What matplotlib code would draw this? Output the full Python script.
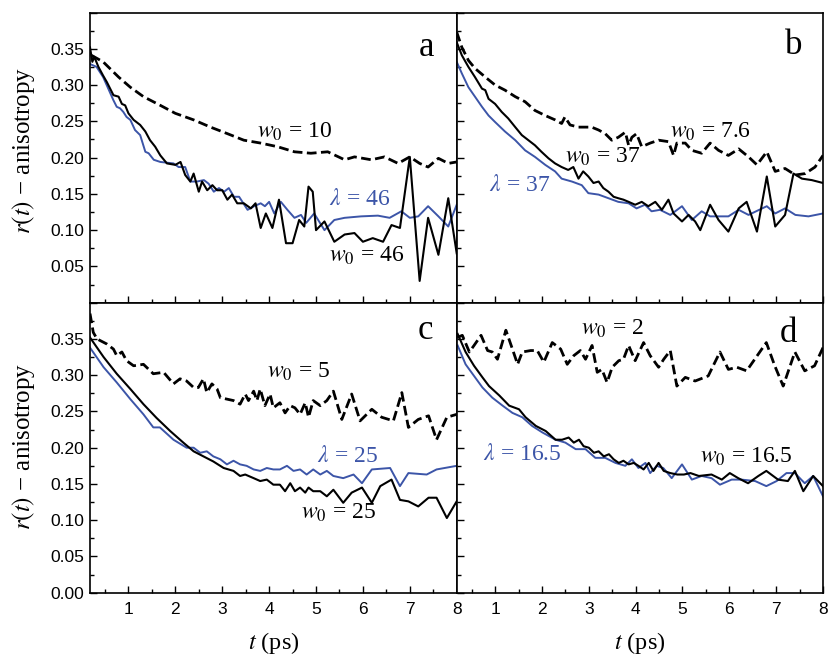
import matplotlib
matplotlib.use("Agg")
import matplotlib.pyplot as plt
from matplotlib.ticker import MultipleLocator, FixedLocator, FixedFormatter

plt.rcParams['mathtext.fontset'] = 'stix'
plt.rcParams['font.family'] = ['Liberation Serif', 'DejaVu Serif']

# ---------------- data ----------------
# Panel a
a_dash_t = [0.21, 0.46, 0.79, 1.04, 1.32, 1.68, 2.0, 2.39, 2.75, 3.11, 3.46, 3.82, 4.18, 4.54, 4.89, 5.25,
            5.61, 5.82, 6.18, 6.46, 6.75, 7.0, 7.21, 7.39, 7.61, 7.82, 8.0]
a_dash_r = [0.341, 0.332, 0.311, 0.297, 0.284, 0.272, 0.261, 0.252, 0.242, 0.233, 0.224, 0.220, 0.215, 0.208,
            0.206, 0.208, 0.197, 0.201, 0.197, 0.201, 0.192, 0.201, 0.192, 0.187, 0.199, 0.192, 0.194]
a_blk_t = [0.18, 0.23, 0.27, 0.36, 0.46, 0.54, 0.61, 0.68, 0.79, 0.86, 0.93, 1.0, 1.11, 1.25, 1.36, 1.46, 1.57,
           1.68, 1.82, 2.0, 2.11, 2.21, 2.32, 2.39, 2.5, 2.57, 2.68, 2.79, 2.89, 3.0, 3.11, 3.21, 3.32, 3.46,
           3.61, 3.71, 3.82, 3.93, 4.07, 4.21, 4.36, 4.5, 4.64, 4.75, 4.84, 4.93, 5.0, 5.18, 5.39, 5.61, 5.82,
           6.0, 6.21, 6.43, 6.61, 6.79, 7.0, 7.21, 7.39, 7.61, 7.82, 8.0]
a_blk_r = [0.352, 0.332, 0.339, 0.325, 0.313, 0.304, 0.295, 0.286, 0.284, 0.274, 0.272, 0.261, 0.252, 0.245,
           0.236, 0.224, 0.215, 0.203, 0.192, 0.190, 0.194, 0.176, 0.167, 0.178, 0.153, 0.167, 0.155, 0.162,
           0.155, 0.155, 0.142, 0.149, 0.137, 0.137, 0.130, 0.137, 0.103, 0.123, 0.103, 0.142, 0.082, 0.082,
           0.114, 0.105, 0.160, 0.153, 0.100, 0.112, 0.084, 0.094, 0.096, 0.084, 0.089, 0.084, 0.107, 0.103,
           0.201, 0.030, 0.117, 0.066, 0.144, 0.068]
a_blu_t = [0.18, 0.32, 0.46, 0.57, 0.68, 0.75, 0.82, 0.89, 0.96, 1.04, 1.14, 1.25, 1.36, 1.43, 1.54, 1.68, 1.96,
           2.07, 2.21, 2.32, 2.46, 2.61, 2.71, 2.82, 2.93, 3.04, 3.14, 3.25, 3.36, 3.54, 3.68, 3.82, 3.91, 4.0,
           4.11, 4.25, 4.39, 4.54, 4.68, 4.79, 4.96, 5.18, 5.39, 5.61, 5.96, 6.32, 6.57, 6.82, 7.0, 7.18, 7.39,
           7.61, 7.82, 8.0]
a_blu_r = [0.329, 0.325, 0.311, 0.295, 0.279, 0.270, 0.268, 0.263, 0.256, 0.252, 0.238, 0.231, 0.208, 0.206,
           0.197, 0.194, 0.192, 0.187, 0.187, 0.167, 0.167, 0.169, 0.164, 0.153, 0.158, 0.153, 0.158, 0.146,
           0.146, 0.128, 0.133, 0.137, 0.133, 0.139, 0.123, 0.139, 0.128, 0.117, 0.121, 0.110, 0.123, 0.100,
           0.114, 0.117, 0.119, 0.120, 0.117, 0.126, 0.117, 0.119, 0.133, 0.119, 0.105, 0.135]

# Panel b
b_dash_t = [0.18, 0.29, 0.43, 0.57, 0.79, 1.0, 1.21, 1.43, 1.64, 1.85, 2.07, 2.28, 2.42, 2.49, 2.6, 2.78, 2.92,
            3.06, 3.21, 3.35, 3.49, 3.63, 3.78, 3.85, 3.92, 4.02, 4.13, 4.31, 4.49, 4.70, 4.81, 4.88, 5.06,
            5.20, 5.41, 5.59, 5.77, 5.98, 6.20, 6.41, 6.59, 6.80, 6.98, 7.19, 7.41, 7.62, 7.83, 8.0]
b_dash_r = [0.373, 0.352, 0.334, 0.323, 0.311, 0.300, 0.293, 0.284, 0.277, 0.265, 0.258, 0.252, 0.247, 0.256,
            0.245, 0.242, 0.242, 0.242, 0.238, 0.233, 0.224, 0.228, 0.235, 0.217, 0.228, 0.233, 0.215, 0.220,
            0.224, 0.222, 0.203, 0.220, 0.220, 0.210, 0.206, 0.220, 0.210, 0.203, 0.212, 0.201, 0.190, 0.208,
            0.181, 0.185, 0.176, 0.178, 0.187, 0.203]
b_blk_t = [0.18, 0.29, 0.43, 0.57, 0.72, 0.79, 0.86, 1.0, 1.14, 1.28, 1.43, 1.57, 1.71, 1.85, 1.99, 2.14, 2.28,
           2.42, 2.56, 2.67, 2.78, 2.88, 2.99, 3.10, 3.21, 3.31, 3.42, 3.53, 3.63, 3.74, 3.85, 3.99, 4.13, 4.27,
           4.42, 4.56, 4.70, 4.81, 4.99, 5.13, 5.27, 5.38, 5.59, 5.77, 5.98, 6.20, 6.37, 6.59, 6.80, 6.98, 7.19,
           7.37, 7.55, 7.76, 8.0]
b_blk_r = [0.359, 0.341, 0.325, 0.311, 0.295, 0.293, 0.281, 0.274, 0.263, 0.254, 0.242, 0.231, 0.224, 0.217,
           0.208, 0.199, 0.192, 0.187, 0.183, 0.187, 0.171, 0.181, 0.174, 0.165, 0.167, 0.158, 0.153, 0.146,
           0.144, 0.142, 0.139, 0.135, 0.139, 0.133, 0.139, 0.128, 0.142, 0.123, 0.112, 0.121, 0.112, 0.100,
           0.135, 0.114, 0.098, 0.130, 0.139, 0.098, 0.174, 0.105, 0.121, 0.178, 0.171, 0.169, 0.165]
b_blu_t = [0.18, 0.29, 0.43, 0.57, 0.72, 0.86, 1.0, 1.21, 1.43, 1.64, 1.85, 2.07, 2.28, 2.42, 2.64, 2.85, 2.99,
           3.21, 3.42, 3.63, 3.85, 4.02, 4.20, 4.34, 4.52, 4.74, 4.99, 5.20, 5.41, 5.59, 5.98, 6.20, 6.41, 6.80,
           6.98, 7.19, 7.41, 7.69, 8.0]
b_blu_r = [0.332, 0.316, 0.297, 0.284, 0.270, 0.258, 0.249, 0.236, 0.224, 0.210, 0.201, 0.190, 0.181, 0.171,
           0.167, 0.162, 0.151, 0.149, 0.144, 0.139, 0.137, 0.130, 0.135, 0.126, 0.128, 0.121, 0.133, 0.114,
           0.126, 0.119, 0.119, 0.128, 0.121, 0.133, 0.123, 0.130, 0.121, 0.119, 0.123]

# Panel c
c_dash_t = [0.18, 0.25, 0.33, 0.54, 0.68, 0.75, 0.86, 0.96, 1.11, 1.32, 1.53, 1.75, 1.96, 2.10, 2.24, 2.39, 2.49,
            2.60, 2.67, 2.78, 2.89, 2.96, 3.10, 3.24, 3.38, 3.49, 3.56, 3.67, 3.74, 3.81, 3.91, 4.02, 4.09, 4.23,
            4.34, 4.45, 4.55, 4.66, 4.77, 4.84, 4.94, 5.09, 5.23, 5.37, 5.55, 5.76, 5.94, 6.19, 6.40, 6.65, 6.83,
            6.97, 7.18, 7.40, 7.57, 7.79, 8.0]
c_dash_r = [0.385, 0.359, 0.350, 0.343, 0.336, 0.327, 0.332, 0.320, 0.313, 0.315, 0.302, 0.304, 0.288, 0.295,
            0.292, 0.283, 0.283, 0.295, 0.276, 0.288, 0.281, 0.269, 0.267, 0.265, 0.260, 0.274, 0.265, 0.278,
            0.265, 0.281, 0.258, 0.274, 0.255, 0.262, 0.248, 0.258, 0.255, 0.246, 0.262, 0.242, 0.265, 0.258,
            0.265, 0.278, 0.239, 0.274, 0.237, 0.253, 0.242, 0.237, 0.276, 0.228, 0.239, 0.244, 0.211, 0.242,
            0.246]
c_blk_t = [0.18, 0.47, 0.75, 1.04, 1.32, 1.60, 1.89, 2.17, 2.39, 2.60, 2.81, 3.03, 3.24, 3.38, 3.49, 3.67, 3.81,
           3.95, 4.09, 4.23, 4.34, 4.45, 4.55, 4.66, 4.77, 4.84, 4.94, 5.09, 5.23, 5.37, 5.58, 5.76, 5.98, 6.19,
           6.37, 6.61, 6.79, 6.97, 7.18, 7.40, 7.57, 7.79, 8.0]
c_blk_r = [0.352, 0.325, 0.302, 0.281, 0.260, 0.241, 0.223, 0.207, 0.195, 0.188, 0.181, 0.172, 0.168, 0.161,
           0.163, 0.158, 0.154, 0.156, 0.149, 0.149, 0.140, 0.151, 0.140, 0.145, 0.138, 0.145, 0.140, 0.140,
           0.133, 0.142, 0.124, 0.138, 0.145, 0.124, 0.147, 0.156, 0.128, 0.126, 0.119, 0.131, 0.131, 0.103,
           0.126]
c_blu_t = [0.18, 0.47, 0.75, 1.04, 1.32, 1.53, 1.67, 1.96, 2.24, 2.39, 2.53, 2.67, 2.81, 2.96, 3.10, 3.24, 3.38,
           3.52, 3.67, 3.81, 3.95, 4.09, 4.23, 4.38, 4.52, 4.66, 4.80, 4.94, 5.09, 5.23, 5.37, 5.58, 5.80, 5.98,
           6.19, 6.58, 6.79, 6.97, 7.36, 7.57, 8.0]
c_blu_r = [0.338, 0.311, 0.290, 0.267, 0.246, 0.228, 0.228, 0.211, 0.200, 0.200, 0.193, 0.195, 0.188, 0.184,
           0.177, 0.182, 0.177, 0.175, 0.170, 0.168, 0.172, 0.170, 0.170, 0.175, 0.168, 0.170, 0.163, 0.170,
           0.163, 0.168, 0.161, 0.158, 0.163, 0.151, 0.170, 0.172, 0.147, 0.165, 0.163, 0.170, 0.175]

# Panel d
d_dash_t = [0.19, 0.30, 0.45, 0.55, 0.70, 0.84, 0.94, 1.05, 1.23, 1.37, 1.48, 1.58, 1.76, 1.90, 2.04, 2.22, 2.40,
            2.54, 2.68, 2.82, 2.93, 3.07, 3.18, 3.28, 3.39, 3.50, 3.64, 3.74, 3.85, 3.99, 4.17, 4.31, 4.49, 4.60,
            4.74, 4.88, 5.06, 5.27, 5.55, 5.80, 5.98, 6.16, 6.37, 6.79, 6.97, 7.15, 7.40, 7.61, 7.82, 8.0]
d_dash_r = [0.352, 0.355, 0.332, 0.341, 0.355, 0.334, 0.332, 0.322, 0.362, 0.336, 0.315, 0.332, 0.334, 0.334,
            0.318, 0.345, 0.336, 0.315, 0.327, 0.334, 0.322, 0.341, 0.304, 0.308, 0.290, 0.311, 0.320, 0.322,
            0.341, 0.320, 0.345, 0.327, 0.311, 0.322, 0.334, 0.285, 0.297, 0.292, 0.299, 0.332, 0.308, 0.311,
            0.306, 0.345, 0.313, 0.285, 0.332, 0.306, 0.313, 0.338]
d_blk_t = [0.20, 0.37, 0.55, 0.73, 0.87, 1.09, 1.30, 1.51, 1.65, 1.87, 2.08, 2.29, 2.43, 2.57, 2.68, 2.79, 2.89,
           3.0, 3.11, 3.21, 3.32, 3.43, 3.53, 3.64, 3.74, 3.85, 3.96, 4.06, 4.17, 4.28, 4.38, 4.49, 4.60, 4.74,
           4.89, 5.03, 5.17, 5.35, 5.62, 5.84, 6.01, 6.19, 6.40, 6.62, 6.79, 7.04, 7.25, 7.40, 7.58, 7.79, 8.0]
d_blk_r = [0.357, 0.332, 0.313, 0.297, 0.285, 0.272, 0.258, 0.253, 0.242, 0.230, 0.223, 0.211, 0.211, 0.214,
           0.207, 0.211, 0.202, 0.200, 0.193, 0.195, 0.188, 0.191, 0.184, 0.179, 0.182, 0.177, 0.179, 0.175,
           0.170, 0.179, 0.168, 0.179, 0.168, 0.165, 0.163, 0.163, 0.165, 0.161, 0.163, 0.156, 0.165, 0.158,
           0.151, 0.161, 0.168, 0.156, 0.154, 0.168, 0.140, 0.161, 0.147]
d_blu_t = [0.20, 0.37, 0.55, 0.73, 0.94, 1.16, 1.37, 1.58, 1.79, 2.01, 2.29, 2.50, 2.72, 2.93, 3.14, 3.35, 3.57,
           3.78, 3.92, 4.06, 4.21, 4.31, 4.45, 4.59, 4.77, 4.99, 5.20, 5.41, 5.62, 5.80, 6.05, 6.26, 6.55, 6.79,
           7.01, 7.22, 7.40, 7.61, 7.79, 8.0]
d_blu_r = [0.341, 0.315, 0.299, 0.283, 0.269, 0.258, 0.248, 0.242, 0.230, 0.221, 0.211, 0.207, 0.198, 0.198,
           0.186, 0.186, 0.179, 0.175, 0.184, 0.172, 0.179, 0.165, 0.175, 0.172, 0.158, 0.177, 0.156, 0.161,
           0.158, 0.149, 0.156, 0.156, 0.154, 0.147, 0.154, 0.165, 0.165, 0.151, 0.161, 0.133]

panel_letters = ['a', 'b', 'c', 'd']
dash_labels = ['10', '7.6', '5', '2']
fit_labels = ['46', '37', '25', '16.5']
fit_labels_w = ['46', '37', '25', '16.5']
x_ticks = [1, 2, 3, 4, 5, 6, 7, 8]
y_ticks = [0.0, 0.05, 0.10, 0.15, 0.20, 0.25, 0.30, 0.35, 0.40]

BLUE = '#3c55a8'

fig = plt.figure(figsize=(8.31, 6.58), dpi=100)
W, H = 831, 658
L, M, R = 90, 456.7, 823
T, MID, B = 12.5, 302.7, 592.7
pos = {
    'a': [L / W, 1 - MID / H, (M - L) / W, (MID - T) / H],
    'b': [M / W, 1 - MID / H, (R - M) / W, (MID - T) / H],
    'c': [L / W, 1 - B / H, (M - L) / W, (B - MID) / H],
    'd': [M / W, 1 - B / H, (R - M) / W, (B - MID) / H],
}

data = {
    'a': (a_dash_t, a_dash_r, a_blk_t, a_blk_r, a_blu_t, a_blu_r),
    'b': (b_dash_t, b_dash_r, b_blk_t, b_blk_r, b_blu_t, b_blu_r),
    'c': (c_dash_t, c_dash_r, c_blk_t, c_blk_r, c_blu_t, c_blu_r),
    'd': (d_dash_t, d_dash_r, d_blk_t, d_blk_r, d_blu_t, d_blu_r),
}

ann_fs = 17

axes = {}
for key in panel_letters:
    ax = fig.add_axes(pos[key])
    axes[key] = ax
    dt, dr, kt, kr, bt, br = data[key]
    ax.plot(bt, br, color=BLUE, lw=1.4, zorder=2)
    ax.plot(kt, kr, color='black', lw=1.5, zorder=3)
    ax.plot(dt, dr, color='black', lw=2.0, ls=(0, (3.5, 1.6)), zorder=3)
    ax.set_xlim(0.18, 8.0)
    ax.set_ylim(0.0, 0.40)
    ax.xaxis.set_major_locator(FixedLocator(x_ticks))
    ax.xaxis.set_minor_locator(MultipleLocator(0.5))
    ax.yaxis.set_major_locator(FixedLocator(y_ticks))
    ax.yaxis.set_minor_locator(MultipleLocator(0.025))
    ax.tick_params(which='both', direction='in', top=False, right=False, width=1.0, colors='black',
                   labelsize=12.5, labelfontfamily='Liberation Sans')
    ax.tick_params(which='major', length=5)
    ax.tick_params(which='minor', length=3)
    ax.tick_params(axis='x', pad=7)
    ax.tick_params(axis='y', pad=4)
    for s in ax.spines.values():
        s.set_linewidth(1.2)
    if key in ('a', 'b'):
        ax.xaxis.set_major_formatter(FixedFormatter([''] * 8))
    else:
        ax.xaxis.set_major_formatter(FixedFormatter([str(i) for i in x_ticks]))
    if key in ('b', 'd'):
        ax.yaxis.set_major_formatter(FixedFormatter([''] * 9))
    elif key == 'a':
        ax.yaxis.set_major_formatter(FixedFormatter(
            ['', '0.05', '0.10', '0.15', '0.20', '0.25', '0.30', '0.35', '']))
    else:
        ax.yaxis.set_major_formatter(FixedFormatter(
            ['0.00', '0.05', '0.10', '0.15', '0.20', '0.25', '0.30', '0.35', '']))

# panel letters
letter_pos = {'a': (7.35, 0.352), 'b': (7.37, 0.355), 'c': (7.33, 0.362), 'd': (7.26, 0.357)}
for key in panel_letters:
    x, y = letter_pos[key]
    axes[key].text(x, y, key, fontsize=25, ha='center', va='center', family='Liberation Serif')

def wtxt(ax, x, y, val, color='black'):
    ax.text(x, y, r'$w_0$' + ' = ' + val, fontsize=ann_fs, ha='left', va='center', color=color,
            family='Liberation Serif')

def ltxt(ax, x, y, val):
    ax.text(x, y, r'$\lambda$' + ' = ' + val, fontsize=ann_fs, ha='left', va='center', color=BLUE,
            family='Liberation Serif')

wtxt(axes['a'], 3.75, 0.236, dash_labels[0])
ltxt(axes['a'], 5.27, 0.142, fit_labels[0])
wtxt(axes['a'], 5.27, 0.064, fit_labels_w[0])

wtxt(axes['b'], 4.73, 0.236, dash_labels[1])
wtxt(axes['b'], 2.50, 0.201, fit_labels_w[1])
ltxt(axes['b'], 0.87, 0.162, fit_labels[1])

wtxt(axes['c'], 3.95, 0.304, dash_labels[2])
ltxt(axes['c'], 5.03, 0.188, fit_labels[2])
wtxt(axes['c'], 4.67, 0.110, fit_labels_w[2])

wtxt(axes['d'], 2.83, 0.364, dash_labels[3])
ltxt(axes['d'], 0.75, 0.191, fit_labels[3])
wtxt(axes['d'], 5.38, 0.188, fit_labels_w[3])

# axis labels
ylab = r'$r(t)$' + ' \u2212 anisotropy'
fig.text(24 / W, 1 - 150 / H, ylab, rotation=90, ha='center', va='center', fontsize=18,
         family='Liberation Serif')
fig.text(24 / W, 1 - 446 / H, ylab, rotation=90, ha='center', va='center', fontsize=18,
         family='Liberation Serif')
fig.text((L + M) / 2 / W, 1 - 643 / H, r'$t$' + ' (ps)', ha='center', va='center', fontsize=17.5,
         family='Liberation Serif')
fig.text((M + R) / 2 / W, 1 - 643 / H, r'$t$' + ' (ps)', ha='center', va='center', fontsize=17.5,
         family='Liberation Serif')

fig.savefig('out.png', dpi=100)
